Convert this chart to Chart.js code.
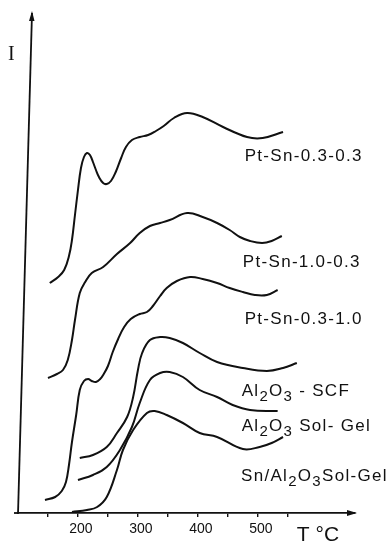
<!DOCTYPE html>
<html>
<head>
<meta charset="utf-8">
<script src="https://cdn.jsdelivr.net/npm/chart.js@4"></script>
<style>
  html, body { margin: 0; padding: 0; background: #fff; }
</style>
</head>
<body>
<canvas id="tprChart" width="387" height="542"></canvas>
<script>
// Courbes : T en °C, intensité I en unités arbitraires
const tempPtSn0303 = [153, 167, 177, 185, 190, 195, 200, 205, 210, 215, 220, 225, 230, 235, 242, 248, 255, 263, 272, 280, 290, 303, 317, 330, 343, 360, 382, 408, 442, 482, 508, 542];
const intPtSn0303  = [230, 236, 243, 257, 273, 298, 323, 345, 356, 360, 358, 351, 343, 336, 330, 329, 332, 341, 355, 366, 373, 376, 378, 382, 387, 395, 400, 396, 386, 376, 375, 381];

const tempPtSn1003 = [150, 165, 175, 183, 190, 195, 203, 212, 223, 242, 265, 287, 303, 320, 337, 353, 382, 408, 432, 453, 470, 487, 507, 523, 540];
const intPtSn1003  = [135, 139, 143, 153, 173, 193, 220, 231, 240, 246, 259, 270, 280, 287, 290, 293, 300, 296, 290, 283, 276, 272, 270, 272, 277];

const tempPtSn0310 = [145, 162, 173, 180, 185, 190, 197, 203, 210, 217, 223, 230, 237, 243, 250, 258, 267, 277, 288, 303, 315, 325, 337, 348, 365, 387, 408, 432, 453, 475, 495, 515, 533];
const intPtSn0310  = [13, 16, 22, 31, 48, 71, 98, 123, 132, 134, 132, 131, 134, 139, 147, 161, 174, 186, 194, 199, 201, 207, 217, 225, 232, 236, 234, 230, 225, 221, 218, 218, 223];

const tempAlScf = [203, 225, 248, 265, 282, 292, 300, 307, 320, 337, 353, 375, 403, 432, 475, 515, 542, 565];
const intAlScf  = [55, 58, 66, 80, 96, 116, 143, 160, 173, 176, 175, 170, 160, 151, 145, 142, 145, 150];

const tempAlSolGel = [200, 225, 248, 270, 290, 303, 320, 337, 353, 375, 403, 432, 458, 487, 533];
const intAlSolGel  = [33, 38, 46, 63, 86, 110, 133, 140, 141, 136, 123, 116, 108, 103, 102];

const tempSnAlSolGel = [190, 215, 232, 248, 265, 275, 292, 315, 328, 348, 375, 403, 432, 475, 503, 523, 542];
const intSnAlSolGel  = [1, 3, 6, 16, 43, 63, 83, 100, 102, 98, 90, 80, 76, 64, 66, 70, 76];

// "_3" = indice
const seriesNames = ['Pt-Sn-0.3-0.3', 'Pt-Sn-1.0-0.3', 'Pt-Sn-0.3-1.0', 'Al_2O_3 - SCF', 'Al_2O_3 Sol- Gel', 'Sn/Al_2O_3Sol-Gel'];
const xTicks = [150, 200, 250, 300, 350, 400, 450, 500, 550];
const xTickLabels = [200, 300, 400, 500];

const temps = [tempPtSn0303, tempPtSn1003, tempPtSn0310, tempAlScf, tempAlSolGel, tempSnAlSolGel];
const ints = [intPtSn0303, intPtSn1003, intPtSn0310, intAlScf, intAlSolGel, intSnAlSolGel];

// position des étiquettes (bord gauche, milieu) en coordonnées des données
const labelAnchors = [[478, 357], [475, 251], [478, 194], [473, 122], [473, 87], [472, 37]];

const INK = '#111';

function drawRich(ctx, text, x, y) {
    const parts = text.split(/(_\d)/).filter(s => s.length);
    let cx = x;
    parts.forEach(p => {
        if (p[0] === '_') {
            ctx.font = '15px "Liberation Sans", Arial, sans-serif';
            ctx.fillText(p[1], cx, y + 6);
            cx += ctx.measureText(p[1]).width;
        } else {
            ctx.font = '17px "Liberation Sans", Arial, sans-serif';
            ctx.fillText(p, cx, y);
            cx += ctx.measureText(p).width;
        }
    });
}

const decorations = {
    id: 'decorations',
    afterDraw(chart) {
        const { ctx, chartArea: a, scales: { x, y } } = chart;
        ctx.save();
        ctx.strokeStyle = INK;
        ctx.fillStyle = INK;
        ctx.lineWidth = 1.8;

        // axe des ordonnées (tracé à la main, légèrement penché)
        const topX = a.left + 14;
        ctx.beginPath();
        ctx.moveTo(a.left, a.bottom + 1);
        ctx.lineTo(topX, a.top);
        ctx.stroke();
        ctx.beginPath();
        ctx.moveTo(topX, a.top - 2);
        ctx.lineTo(topX - 3, a.top + 8);
        ctx.lineTo(topX + 2.5, a.top + 8);
        ctx.closePath();
        ctx.fill();

        // flèche de l'axe des abscisses
        ctx.beginPath();
        ctx.moveTo(a.left - 4, a.bottom);
        ctx.lineTo(a.left, a.bottom);
        ctx.stroke();
        ctx.beginPath();
        ctx.moveTo(a.right + 2, a.bottom);
        ctx.lineTo(a.right - 8, a.bottom - 3);
        ctx.lineTo(a.right - 8, a.bottom + 3);
        ctx.closePath();
        ctx.fill();

        // titres des axes
        ctx.textBaseline = 'middle';
        ctx.textAlign = 'left';
        ctx.font = '20px "Liberation Serif", serif';
        ctx.fillText('I', 8, 55);
        ctx.font = '21px "Liberation Sans", Arial, sans-serif';
        ctx.fillText('T °C', x.getPixelForValue(500) + 39, a.bottom + 22);

        // étiquettes des courbes
        ctx.letterSpacing = '1.3px';
        ctx.lineWidth = 0.5;
        seriesNames.forEach((name, k) => {
            const [t, i] = labelAnchors[k];
            drawRich(ctx, name, x.getPixelForValue(t), y.getPixelForValue(i));
        });
        ctx.restore();
    }
};

document.addEventListener('DOMContentLoaded', () => {
    const ctx = document.getElementById('tprChart').getContext('2d');
    new Chart(ctx, {
        type: 'line',
        data: {
            datasets: seriesNames.map((name, k) => ({
                label: name.replace(/_/g, ''),
                data: temps[k].map((t, j) => ({ x: t, y: ints[k][j] })),
                borderColor: INK,
                borderWidth: 2,
                pointRadius: 0,
                fill: false,
                tension: 0.4
            }))
        },
        plugins: [decorations],
        options: {
            responsive: false,
            animation: false,
            devicePixelRatio: 1,
            layout: { padding: { left: 18, right: 32, top: 13, bottom: 0 } },
            plugins: { legend: { display: false }, tooltip: { enabled: false } },
            scales: {
                x: {
                    type: 'linear',
                    min: 100,
                    max: 662,
                    afterBuildTicks: scale => { scale.ticks = xTicks.map(v => ({ value: v })); },
                    afterFit: scale => { scale.height = 29; },
                    border: { display: true, color: INK, width: 1.8 },
                    grid: { drawOnChartArea: false, drawTicks: true, tickLength: 4, color: INK, lineWidth: 1.4 },
                    ticks: {
                        autoSkip: false,
                        maxRotation: 0,
                        padding: 4,
                        labelOffset: 3,
                        color: INK,
                        font: { family: '"Liberation Sans", Arial, sans-serif', size: 14 },
                        callback: v => xTickLabels.includes(v) ? String(v) : ''
                    }
                },
                y: {
                    display: false,
                    min: 0,
                    max: 500
                }
            }
        }
    });
});
</script>
</body>
</html>
